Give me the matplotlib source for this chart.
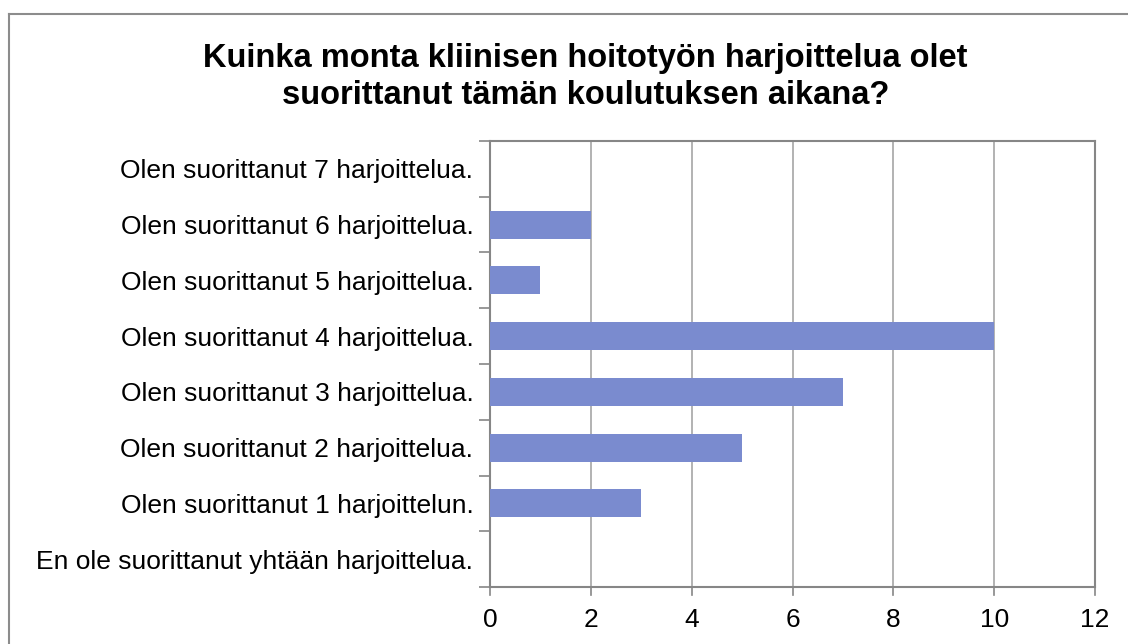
import matplotlib
matplotlib.use("Agg")
import matplotlib.pyplot as plt
from matplotlib.lines import Line2D

categories = [
    "En ole suorittanut yhtään harjoittelua.",
    "Olen suorittanut 1 harjoittelun.",
    "Olen suorittanut 2 harjoittelua.",
    "Olen suorittanut 3 harjoittelua.",
    "Olen suorittanut 4 harjoittelua.",
    "Olen suorittanut 5 harjoittelua.",
    "Olen suorittanut 6 harjoittelua.",
    "Olen suorittanut 7 harjoittelua.",
]
values = [0, 3, 5, 7, 10, 1, 2, 0]
xticks = [0, 2, 4, 6, 8, 10, 12]
title = "Kuinka monta kliinisen hoitotyön harjoittelua olet\nsuorittanut tämän koulutuksen aikana?"

plt.rcParams['font.family'] = ['Liberation Sans', 'DejaVu Sans']

def main():
    fig = plt.figure(figsize=(11.28, 6.44), dpi=100)
    ax = fig.add_axes([490/1128, 1 - 587/644, (1095-490)/1128, (587-141)/644])

    ypos = list(range(len(categories)))
    ax.barh(ypos, values, height=0.5, color='#7A8BCF', zorder=3)

    ax.set_xlim(0, 12)
    ax.set_ylim(-0.5, len(categories) - 0.5)
    ax.set_xticks(xticks)
    ax.set_xticklabels([str(t) for t in xticks], fontsize=19)
    ax.set_yticks(ypos)
    ax.set_yticklabels(categories, fontsize=19)
    ax.tick_params(axis='y', length=0, pad=12)
    ax.tick_params(axis='x', length=0, pad=15)
    # category boundary ticks
    ax.set_yticks([i - 0.5 for i in range(len(categories) + 1)], minor=True)
    ax.tick_params(axis='y', which='minor', length=8, color='#868686', width=1.2)
    ax.set_xticks([], minor=True)

    ax.grid(axis='x', color='#A6A6A6', linewidth=1.2, zorder=0)
    for s in ax.spines.values():
        s.set_color('#868686')
        s.set_linewidth(1.5)
    # small tick marks below x axis
    for t in xticks:
        ax.plot([t, t], [-0.5, -0.64], color='#868686', lw=1.2, clip_on=False, zorder=1)

    fig.text(0.519, 1 - 77/644, title, ha='center', va='center', fontsize=23.5,
             fontweight='bold', linespacing=1.22)

    # outer chart frame (cut off at right and bottom)
    fig.add_artist(Line2D([9/1128, 9/1128], [0, 1 - 14/644], color='#8C8C8C', lw=1.5))
    fig.add_artist(Line2D([9/1128, 1], [1 - 14/644, 1 - 14/644], color='#8C8C8C', lw=1.5))

    fig.savefig('out.png', dpi=100)

if __name__ == '__main__':
    main()
